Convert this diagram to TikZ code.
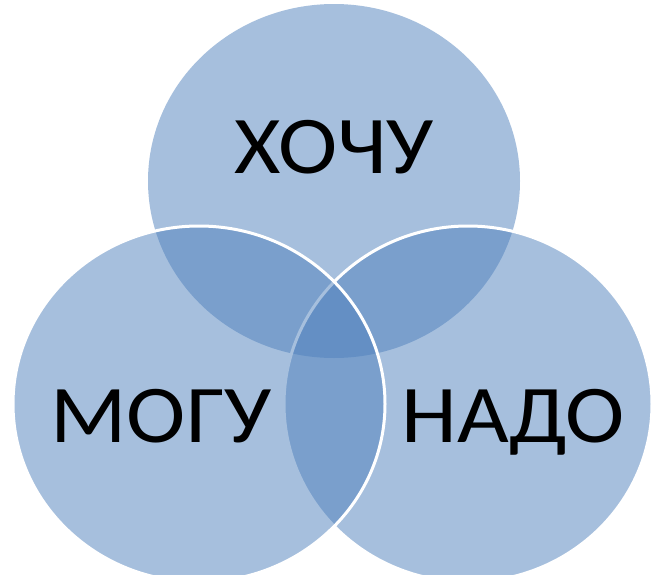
\documentclass[tikz,border=0pt]{standalone}
\usepackage{fontspec}
\setmainfont{Carlito}
\definecolor{vennblue}{HTML}{4F81BD}
\begin{document}
\begin{tikzpicture}[x=1pt,y=-1pt,
  venn/.style={fill=vennblue,fill opacity=0.5},
  vennrim/.style={venn,draw=white,draw opacity=1,line width=3pt},
  lbl/.style={anchor=base,inner sep=0pt,xscale=1.09,font=\fontsize{82}{82}\selectfont,text=black}]
\useasboundingbox (0,0) rectangle (651,574);
\fill[white] (0,0) rectangle (651,574);
% top circle
\path[venn] (334,181) ellipse [x radius=186pt, y radius=177pt];
% right circle
\path[vennrim] (468,404) ellipse [x radius=184pt, y radius=178pt];
% left circle
\path[vennrim] (199,404) ellipse [x radius=186pt, y radius=178pt];
\node[lbl] (hochu) at (334,173) {ХОЧУ};
\node[lbl] (mogu) at (161,442) {МОГУ};
\node[lbl] (nado) at (513,442) {НАДО};
\end{tikzpicture}
\end{document}
